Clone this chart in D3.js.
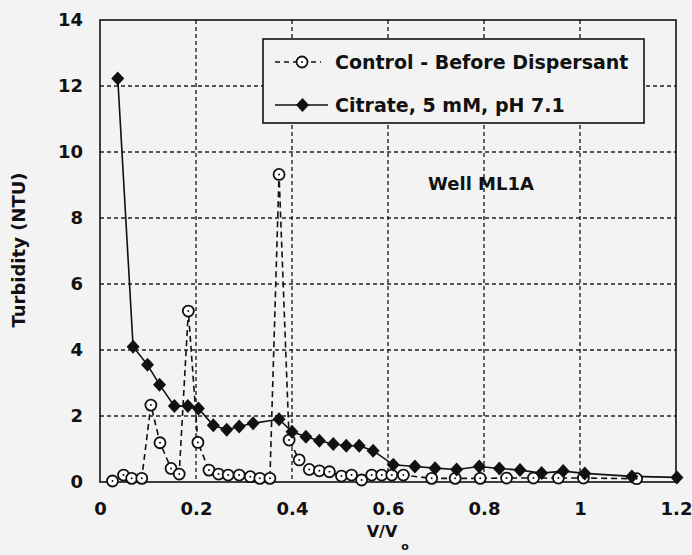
<!DOCTYPE html>
<html>
<head>
<meta charset="utf-8">
<script src="https://cdn.jsdelivr.net/npm/d3@7"></script>
<style>
  html, body { margin: 0; padding: 0; background: #f3f3f3; }
  svg { display: block; }
  text { font-family: "DejaVu Sans", Verdana, sans-serif; font-weight: bold; fill: #111; }
</style>
</head>
<body>
<svg id="chart" width="692" height="555"></svg>
<script>
// ---- data ----
const controlX = [0.026,0.049,0.066,0.087,0.106,0.125,0.148,0.165,0.184,0.204,0.227,0.247,0.267,0.290,0.313,0.333,0.354,0.373,0.394,0.415,0.436,0.457,0.478,0.503,0.524,0.545,0.566,0.587,0.608,0.632,0.691,0.740,0.792,0.847,0.903,0.955,1.007,1.118];
const controlY = [0.03,0.21,0.11,0.11,2.33,1.19,0.41,0.24,5.18,1.20,0.36,0.24,0.21,0.21,0.16,0.11,0.11,9.32,1.27,0.67,0.38,0.34,0.31,0.18,0.21,0.06,0.21,0.21,0.21,0.21,0.11,0.11,0.11,0.12,0.12,0.12,0.12,0.10];
const citrateX = [0.037,0.069,0.099,0.124,0.155,0.183,0.205,0.236,0.264,0.290,0.319,0.373,0.400,0.429,0.457,0.486,0.513,0.540,0.569,0.611,0.656,0.698,0.743,0.790,0.832,0.875,0.920,0.965,1.010,1.108,1.202];
const citrateY = [12.23,4.10,3.55,2.95,2.30,2.30,2.23,1.72,1.58,1.68,1.78,1.90,1.52,1.37,1.25,1.15,1.10,1.10,0.95,0.52,0.47,0.42,0.38,0.47,0.41,0.36,0.27,0.33,0.26,0.17,0.14];
const xTicks = [0, 0.2, 0.4, 0.6, 0.8, 1, 1.2];
const yTicks = [0, 2, 4, 6, 8, 10, 12, 14];
const seriesNames = ["Control - Before Dispersant", "Citrate, 5 mM, pH 7.1"];
const annotation = "Well ML1A";
const yTitle = "Turbidity (NTU)";

// ---- layout ----
const L = 100, R = 676, T = 20, B = 482;
const svg = d3.select("#chart");
const x = d3.scaleLinear().domain([0, 1.2]).range([L, R]);
const y = d3.scaleLinear().domain([0, 14]).range([B, T]);

// grid
const grid = svg.append("g").attr("stroke", "#222").attr("stroke-width", 1.4).attr("stroke-dasharray", "4,3");
grid.selectAll(".gx").data(xTicks.filter(d => d > 0 && d < 1.2)).enter().append("line")
  .attr("x1", d => x(d)).attr("x2", d => x(d)).attr("y1", T).attr("y2", B);
grid.selectAll(".gy").data(yTicks.filter(d => d > 0 && d < 14)).enter().append("line")
  .attr("y1", d => y(d)).attr("y2", d => y(d)).attr("x1", L).attr("x2", R);

// axes (labels only)
const xAxis = d3.axisBottom(x).tickValues(xTicks).tickSize(0).tickPadding(20).tickFormat(d3.format("~g"));
const gx = svg.append("g").attr("transform", `translate(0,${B})`).call(xAxis);
gx.select(".domain").remove();
gx.selectAll("text").style("font-size", "18px").style("font-family", "DejaVu Sans").style("font-weight", "bold").attr("fill", "#111");

const yAxis = d3.axisLeft(y).tickValues(yTicks).tickSize(0).tickPadding(17).tickFormat(d3.format("~g"));
const gy = svg.append("g").attr("transform", `translate(${L},0)`).call(yAxis);
gy.select(".domain").remove();
gy.selectAll("text").style("font-size", "18px").style("font-family", "DejaVu Sans").style("font-weight", "bold").attr("fill", "#111");

// frame
svg.append("rect").attr("x", L).attr("y", T).attr("width", R - L).attr("height", B - T)
  .attr("fill", "none").attr("stroke", "#111").attr("stroke-width", 1.6);

// axis titles
svg.append("text").attr("transform", `translate(25,250) rotate(-90)`).attr("text-anchor", "middle")
  .style("font-size", "18px").text(yTitle);
svg.append("text").attr("x", 382).attr("y", 537).attr("text-anchor", "middle").style("font-size", "16px").text("V/V");
svg.append("text").attr("x", 405).attr("y", 550).attr("text-anchor", "middle").style("font-size", "11px").text("o");

// annotation
svg.append("text").attr("x", 481).attr("y", 190).attr("text-anchor", "middle").style("font-size", "18px").text(annotation);

// markers
const diamondPath = (cx, cy, w = 6.5, h = 7) => `M${cx},${cy - h}L${cx + w},${cy}L${cx},${cy + h}L${cx - w},${cy}Z`;
function circleMarker(g, cx, cy) {
  g.append("circle").attr("cx", cx).attr("cy", cy).attr("r", 5.5).attr("fill", "#fff").attr("stroke", "#111").attr("stroke-width", 1.8);
  g.append("circle").attr("cx", cx).attr("cy", cy).attr("r", 1).attr("fill", "#111");
}

const controlData = controlX.map((v, i) => ({ x: v, y: controlY[i] }));
const citrateData = citrateX.map((v, i) => ({ x: v, y: citrateY[i] }));
const line = d3.line().x(d => x(d.x)).y(d => y(d.y));

// control series
svg.append("path").datum(controlData).attr("d", line).attr("fill", "none")
  .attr("stroke", "#111").attr("stroke-width", 1.6).attr("stroke-dasharray", "6,4");

// citrate series
svg.append("path").datum(citrateData).attr("d", line).attr("fill", "none")
  .attr("stroke", "#111").attr("stroke-width", 1.6);

const cg = svg.append("g");
controlData.forEach(d => circleMarker(cg, x(d.x), y(d.y)));
svg.append("g").selectAll("path").data(citrateData).enter().append("path")
  .attr("d", d => diamondPath(x(d.x), y(d.y))).attr("fill", "#111");

// legend
const lg = svg.append("g");
lg.append("rect").attr("x", 263).attr("y", 39).attr("width", 381).attr("height", 84)
  .attr("fill", "#f3f3f3").attr("stroke", "#111").attr("stroke-width", 1.6);
lg.append("line").attr("x1", 275).attr("x2", 321).attr("y1", 62).attr("y2", 62)
  .attr("stroke", "#111").attr("stroke-width", 1.6).attr("stroke-dasharray", "5,4");
circleMarker(lg, 302, 62);
lg.append("line").attr("x1", 275).attr("x2", 328).attr("y1", 105).attr("y2", 105)
  .attr("stroke", "#111").attr("stroke-width", 1.6);
lg.append("path").attr("d", diamondPath(302.5, 105)).attr("fill", "#111");
lg.append("text").attr("x", 335).attr("y", 62).attr("dy", "0.35em").style("font-size", "19px").text(seriesNames[0]);
lg.append("text").attr("x", 335).attr("y", 105).attr("dy", "0.35em").style("font-size", "19px").text(seriesNames[1]);
</script>
</body>
</html>
